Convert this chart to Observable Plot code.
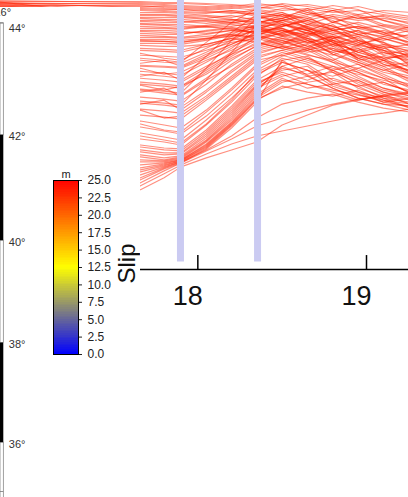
<!DOCTYPE html>
<html>
<head>
<meta charset="utf-8">
<script src="https://cdn.jsdelivr.net/npm/d3@7"></script>
<script src="https://cdn.jsdelivr.net/npm/@observablehq/plot@0.6"></script>
<style>
  html, body { margin: 0; padding: 0; background: white; }
  #wrap { position: relative; width: 408px; height: 497px; overflow: hidden; }
  #wrap > svg, #wrap > div { position: absolute; left: 0; }
</style>
</head>
<body>
<div id="wrap"></div>
<script>
// ---------- data ----------
const nodeX = [16.8, 17.66, 17.8, 17.9, 18.05, 18.2, 18.35, 18.5, 18.65, 18.8, 18.95, 19.1, 19.26];
const slipProfiles = [
  [26.9,26.9,26.8,26.8,26.7,26.6,26.4,26.0,26.2,25.8,26.0,25.6,25.2],
  [26.7,26.7,26.6,26.5,26.4,26.2,26.5,26.6,25.8,25.4,25.0,25.2,24.8],
  [26.5,26.5,26.3,26.2,26.1,26.3,26.0,25.6,25.2,26.0,25.5,24.6,24.2],
  [26.8,26.3,26.2,26.1,26.0,25.8,25.6,26.2,26.0,24.8,24.2,24.5,24.0],
  [26.4,26.1,26.0,25.9,25.8,25.9,25.4,25.0,25.6,25.2,24.6,23.8,23.4],
  [26.6,25.8,25.8,25.7,25.5,25.3,25.8,25.4,24.6,24.2,24.8,24.2,23.0],
  [26.0,25.5,25.5,25.4,25.2,25.5,25.0,24.4,25.0,24.4,23.6,23.0,23.6],
  [25.2,25.2,25.1,25.1,24.9,24.7,25.2,25.6,24.2,23.6,24.0,23.2,22.5],
  [24.9,24.9,24.8,24.8,25.0,25.1,24.6,24.0,23.5,24.6,23.0,22.4,22.0],
  [24.6,24.6,24.5,24.4,24.3,24.4,24.8,25.2,24.3,23.0,22.5,23.4,22.8],
  [24.2,24.2,24.2,24.1,24.4,24.6,24.2,23.6,24.6,23.8,23.2,22.0,21.5],
  [23.9,23.9,23.8,23.7,23.9,24.2,24.4,24.6,23.7,22.6,22.0,22.6,22.2],
  [23.5,23.5,23.4,23.3,23.6,24.0,23.8,23.2,22.7,23.4,22.8,21.5,21.0],
  [23.1,23.1,23.1,23.0,23.2,23.4,24.0,24.2,23.0,22.0,21.5,21.0,21.8],
  [22.7,22.7,22.7,22.6,23.0,23.5,23.4,22.6,23.8,22.8,21.2,21.8,20.8],
  [22.0,22.0,21.9,21.8,22.4,23.0,23.6,24.0,23.2,22.4,23.0,21.8,21.2],
  [21.5,21.5,21.4,21.3,22.0,22.8,23.2,22.5,22.0,23.0,22.2,21.0,20.4],
  [21.0,21.0,20.8,20.7,21.8,23.0,24.2,24.8,24.0,22.8,21.8,21.2,21.6],
  [20.4,20.4,20.3,20.2,21.2,22.4,23.4,23.0,22.2,21.5,22.5,22.0,20.6],
  [19.8,19.9,19.7,19.5,20.8,22.2,24.0,23.5,22.8,23.4,21.5,20.8,20.0],
  [19.2,19.2,19.0,18.8,20.2,21.8,23.0,23.8,24.2,22.4,21.2,20.4,20.8],
  [18.6,18.6,18.4,18.2,19.8,21.4,22.8,22.2,21.5,21.0,22.0,21.2,19.8],
  [18.0,18.0,17.7,17.5,19.2,21.0,22.5,23.2,22.4,21.8,20.8,19.8,19.2],
  [17.4,17.3,17.1,16.9,18.6,20.6,22.2,22.8,23.4,22.0,21.4,20.4,19.0],
  [16.8,16.7,16.5,16.3,18.0,20.0,21.8,22.4,21.6,20.8,20.2,21.0,19.6],
  [16.2,16.1,15.9,15.7,17.4,19.4,21.4,22.0,22.6,21.2,20.0,19.2,18.6],
  [15.6,15.5,15.3,15.1,17.0,19.0,21.0,21.5,20.8,20.0,20.6,19.4,18.2],
  [21.2,21.2,21.0,20.8,22.8,24.8,26.2,26.4,25.6,26.0,25.2,25.4,24.6],
  [19.6,19.6,19.4,19.2,21.4,23.8,25.6,25.2,26.2,24.8,25.6,25.0,24.2],
  [18.2,18.1,17.9,17.7,20.2,23.0,25.2,25.8,24.6,25.4,24.2,23.6,24.4],
  [17.0,16.9,16.7,16.5,19.0,21.8,24.6,25.0,25.4,24.0,24.4,23.8,22.6],
  [15.0,14.9,14.5,14.2,16.0,18.2,20.6,21.8,21.0,20.2,19.6,19.0,18.4],
  [14.4,14.3,13.9,13.6,15.4,17.6,20.0,21.4,22.2,21.0,19.8,18.6,18.0],
  [13.8,13.7,13.3,13.0,15.0,17.2,19.6,20.8,20.0,19.4,20.2,19.2,17.6],
  [13.2,13.1,12.8,12.5,14.5,16.8,19.4,21.2,20.6,19.0,18.4,18.8,17.8],
  [12.7,12.5,12.2,12.1,14.0,16.4,19.0,20.4,19.4,19.8,18.2,17.4,17.0],
  [12.2,12.0,11.7,11.7,13.6,16.0,18.6,20.0,20.4,18.6,19.0,17.8,17.2],
  [11.7,11.5,11.2,11.4,13.2,15.6,18.4,19.6,18.6,18.0,17.5,17.0,16.6],
  [11.2,11.0,10.9,11.2,12.9,15.2,18.0,20.4,21.2,20.0,19.0,18.0,17.4],
  [10.7,10.5,10.7,11.0,12.6,14.8,17.6,19.2,18.2,18.6,17.8,17.2,16.8],
  [10.2,10.0,10.5,10.9,12.4,14.6,17.2,18.8,19.4,18.2,17.2,16.6,16.4],
  [9.7,9.5,10.3,10.8,12.2,14.4,17.0,18.4,17.8,17.4,18.0,17.0,16.2],
  [9.2,9.0,10.1,10.7,12.1,14.2,16.8,21.0,19.5,18.2,17.2,16.6,16.0],
  [8.6,8.4,9.6,10.5,11.6,12.6,13.4,13.9,14.4,14.9,15.4,15.7,16.1],
  [8.9,8.7,9.9,10.7,11.9,13.1,14.4,15.2,16.0,16.6,17.1,17.4,17.7],
  [9.4,9.2,10.2,10.8,12.0,13.4,15.2,16.6,17.2,17.6,16.8,16.2,15.8],
  [8.2,8.0,9.2,10.3,11.2,12.0,12.8,14.5,15.5,16.5,17.0,17.5,17.8],
  [27.0,26.8,26.7,26.7,26.6,26.4,26.7,26.4,26.6,26.2,25.6,26.0,25.8],
  [26.8,26.6,26.5,26.4,26.3,26.5,26.2,26.7,26.4,26.0,26.4,25.8,25.4],
  [26.6,26.4,26.4,26.3,26.2,26.0,25.8,25.4,26.0,26.5,26.1,25.0,24.4],
  [26.4,26.2,26.1,26.1,25.9,25.7,26.1,25.8,25.0,25.6,25.2,25.5,25.0],
  [26.7,26.0,25.9,25.8,25.7,26.0,25.6,24.6,24.0,24.8,25.4,24.4,23.8],
  [26.5,25.6,25.6,25.5,25.4,25.1,24.8,25.2,25.8,25.0,23.8,23.4,24.0],
  [26.9,25.3,25.3,25.3,25.1,24.8,24.4,23.8,24.4,23.2,23.6,24.0,23.2],
  [26.3,25.0,25.0,24.9,24.7,25.0,25.3,24.8,23.6,24.2,22.8,22.2,22.6],
  [24.8,24.7,24.6,24.6,24.4,24.1,23.8,24.4,25.0,24.0,23.4,22.8,21.2],
  [24.4,24.4,24.3,24.2,24.5,24.8,25.0,24.2,23.2,22.6,23.4,21.6,22.0],
  [24.0,24.0,24.0,23.9,23.7,24.0,24.4,23.5,24.0,22.8,21.8,22.4,20.4],
  [23.7,23.7,23.6,23.6,24.0,24.3,23.6,22.8,22.2,23.2,22.4,21.2,21.4],
  [23.3,23.3,23.3,23.2,23.4,23.6,23.2,23.7,22.8,21.8,22.2,20.6,20.0],
  [22.9,22.9,22.9,22.8,23.1,23.8,24.2,23.4,22.4,23.0,21.0,21.4,20.2],
  [22.5,22.5,22.4,22.4,22.6,23.2,22.8,22.2,23.0,21.6,20.8,20.0,20.6],
  [21.7,21.7,21.2,21.0,22.2,23.4,24.4,25.0,24.4,23.6,22.6,22.0,21.0],
  [20.8,20.7,21.0,20.4,21.6,22.6,23.8,24.2,23.4,24.0,23.0,22.2,21.4],
  [20.0,20.2,19.6,19.8,21.0,22.0,23.2,24.0,23.0,22.2,21.6,20.6,19.6],
  [19.4,19.4,19.8,19.0,20.4,21.6,22.6,23.4,23.8,23.0,21.8,21.0,19.8],
  [18.4,18.5,18.0,18.4,19.6,21.2,22.4,23.0,22.0,22.6,21.2,20.2,18.8],
  [17.6,17.8,18.2,17.4,19.0,20.4,22.0,22.6,23.2,21.6,20.6,19.6,18.4],
  [16.4,16.6,17.0,16.0,17.8,19.8,21.6,22.4,21.8,22.2,21.0,20.0,19.4],
  [15.8,16.0,15.2,15.4,17.2,19.2,21.2,22.0,21.2,20.4,19.8,18.8,17.8],
  [14.6,14.6,14.0,13.8,15.8,18.0,20.4,21.6,22.0,20.8,19.4,18.2,17.4],
  [13.4,13.4,13.0,12.7,14.6,17.0,19.8,21.0,21.4,19.8,18.8,17.8,17.0],
  [12.4,12.3,12.0,11.9,13.8,16.2,18.8,19.8,19.0,20.0,18.6,17.6,16.6],
  [11.4,11.3,11.0,11.3,13.0,15.4,18.2,19.4,20.0,18.8,17.8,16.8,16.4],
  [10.4,10.2,10.6,11.0,12.5,14.7,17.4,19.0,18.6,17.8,17.0,17.4,16.6],
  [9.9,9.8,10.4,10.9,12.3,14.5,17.1,18.2,18.8,19.2,18.4,17.2,16.2],
  [11.0,10.8,10.8,11.1,12.8,15.0,17.8,20.8,20.0,18.4,17.6,16.8,17.2],
  [12.0,11.8,11.5,11.6,13.4,15.8,18.5,20.2,19.6,20.4,19.2,18.2,17.6],
  [23.0,23.0,22.9,22.8,23.2,23.6,24.6,25.6,24.8,24.0,24.4,23.6,22.8],
  [22.2,22.2,22.1,22.0,22.6,23.2,24.0,25.0,24.2,23.4,22.6,23.2,22.4],
  [20.6,20.5,20.4,20.3,21.4,22.6,23.6,24.4,25.2,24.4,23.6,22.8,21.8],
  [18.8,18.8,18.6,18.4,20.0,21.6,23.4,24.6,24.0,23.2,24.0,22.6,21.6]
];
const barX = [17.897, 18.354];
const xTicks = [18, 19];

const latTicks = [44, 42, 40, 38, 36];
const frameWhite = [[44.06, 42], [40, 38], [36, 34.8]];
const frameBlack = [[42, 40], [38, 36]];
const frameLines = [44.06, 35];
const lonTicks = [16];

const cbTicks = [0, 2.5, 5, 7.5, 10, 12.5, 15, 17.5, 20, 22.5, 25];
const cbColorDomain = [0, 12.5, 25];
const cbColors = ["#0000ff", "#ffff00", "#ff0000"];

// ---------- build ----------
const FONT = "'Liberation Sans', Arial, Helvetica, sans-serif";
const wrap = document.getElementById("wrap");
const rows = slipProfiles.flatMap((p, i) => p.map((s, j) => ({id: i, x: nodeX[j], slip: s})));

const main = Plot.plot({
  width: 408, height: 497,
  marginTop: 0, marginBottom: 228, marginLeft: 0, marginRight: 0,
  x: {domain: [16.83, 19.249], axis: null},
  y: {domain: [0, 27], axis: null},
  style: {background: "white", fontFamily: FONT, color: "#111"},
  marks: [
    Plot.line(rows, {x: "x", y: "slip", z: "id", stroke: "#ff2000", strokeOpacity: 0.5, strokeWidth: 1.15, clip: true}),
    Plot.ruleX(barX, {y1: 0.75, y2: 27, stroke: "#cbcbf2", strokeWidth: 7}),
    Plot.ruleY([0], {stroke: "black", strokeWidth: 1.5}),
    Plot.ruleX(xTicks, {y1: 0, y2: 1.4, stroke: "black", strokeWidth: 1.5}),
    Plot.text(xTicks, {x: d => d, y: 0, text: d => String(d), dx: -10, dy: 35, lineAnchor: "bottom", fontSize: 27, fill: "#111"})
  ]
});
main.style.top = "0px";
wrap.appendChild(main);

const merc = lat => Math.log(Math.tan(Math.PI / 4 + lat * Math.PI / 360));
const panel = Plot.plot({
  width: 140, height: 490,
  marginTop: 0, marginBottom: 0, marginLeft: 0, marginRight: 0,
  x: {domain: [15.917, 16], range: [0, 3.3], axis: null},
  y: {domain: [merc(35), merc(44)], range: [484, 19], axis: null},
  style: {background: "white", fontFamily: FONT, color: "#333"},
  marks: [
    Plot.rect(frameWhite, {x1: 15.917, x2: 16, y1: d => merc(d[0]), y2: d => merc(d[1]), fill: "white", stroke: "#777", strokeWidth: 0.7}),
    Plot.rect(frameBlack, {x1: 15.917, x2: 16, y1: d => merc(d[0]), y2: d => merc(d[1]), fill: "black"}),
    Plot.ruleY(frameLines, {y: d => merc(d), x1: 15.917, x2: 16, stroke: "#777", strokeWidth: 0.8}),
    Plot.text(latTicks, {x: 16, y: d => merc(d), text: d => d + "°", textAnchor: "start", dx: 5, dy: 1.5, fontSize: 11, fill: "#333"}),
    Plot.text(lonTicks, {x: d => d, y: merc(44.06), text: d => d + "°", dx: -1, dy: -11, fontSize: 11, fill: "#333"})
  ]
});
panel.style.top = "7px";
wrap.appendChild(panel);

const cbStops = d3.range(0, 25, 0.25);
const cbar = Plot.plot({
  width: 140, height: 370,
  marginLeft: 53, marginRight: 62, marginTop: 180, marginBottom: 16,
  x: {domain: [0, 1], axis: null},
  y: {domain: [0, 25], axis: null},
  color: {type: "linear", domain: cbColorDomain, range: cbColors, interpolate: "rgb"},
  style: {background: "transparent", fontFamily: FONT, color: "#222"},
  marks: [
    Plot.rect(cbStops, {x1: 0, x2: 1, y1: d => d, y2: d => d + 0.25, fill: d => d + 0.125, shapeRendering: "crispEdges"}),
    Plot.frame({stroke: "black", strokeWidth: 1}),
    Plot.axisY(cbTicks, {anchor: "right", tickSize: 3, tickPadding: 6, tickFormat: d => d.toFixed(1), fontSize: 12}),
    Plot.text(["m"], {frameAnchor: "top", lineAnchor: "bottom", dy: -3, fontSize: 11, fill: "#222"}),
    Plot.text(["Slip"], {frameAnchor: "right", textAnchor: "middle", dx: 49, dy: -4, rotate: -90, fontSize: 24, fill: "#111"})
  ]
});
cbar.style.top = "0px";
wrap.appendChild(cbar);
</script>
</body>
</html>
